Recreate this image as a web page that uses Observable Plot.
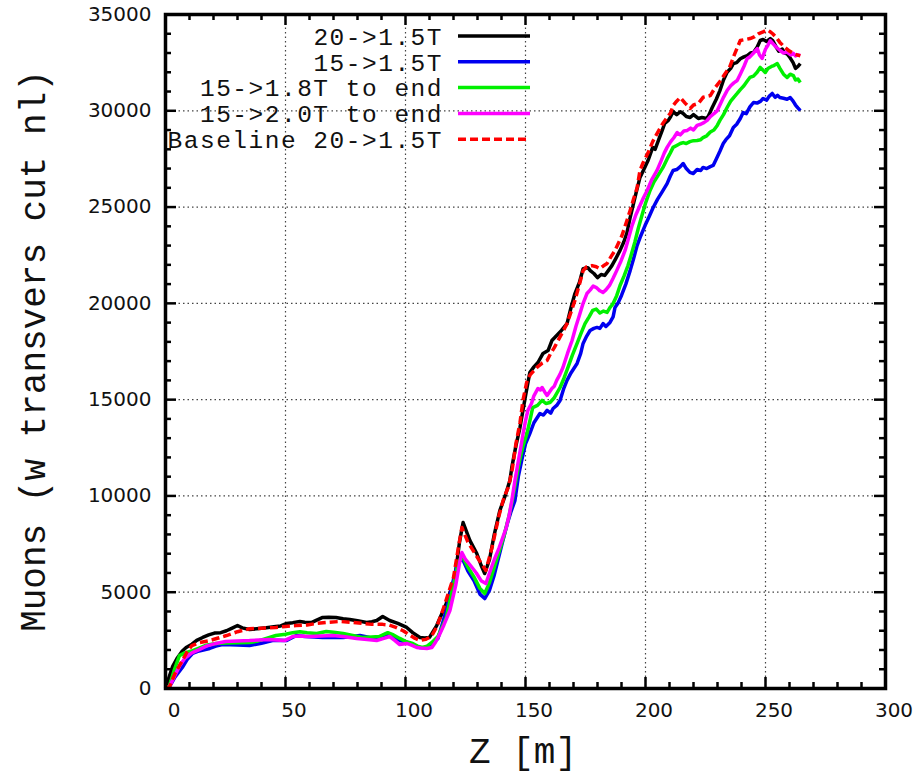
<!DOCTYPE html>
<html>
<head>
<meta charset="utf-8">
<script src="https://cdn.jsdelivr.net/npm/d3@7"></script>
<script src="https://cdn.jsdelivr.net/npm/@observablehq/plot@0.6"></script>
<style>
  html, body { margin: 0; padding: 0; background: #fff; }
  g[aria-label="xtick"] text, g[aria-label="ytick"] text { letter-spacing: 3px; }
</style>
</head>
<body>
<div id="chart"></div>
<script>
// ---- data ----
const seriesNames = ["20->1.5T", "15->1.5T", "15->1.8T to end", "15->2.0T to end", "Baseline 20->1.5T"];
const seriesColors = ["#000000", "#0000f0", "#00f000", "#ff00ff", "#ff0000"];

const s20to15 = [[0,0],[1.5,600],[3,1150],[5,1600],[7,1950],[8.6,2130],[11,2300],[13,2500],[15.5,2650],[18,2780],[20.4,2880],[23,2900],[25.4,3000],[28,3150],[30,3270],[32,3150],[35,3060],[38,3100],[42,3150],[46,3220],[48,3250],[50.5,3380],[53,3420],[56,3480],[58,3440],[61,3430],[63,3550],[65.5,3690],[68,3700],[71,3690],[74,3620],[76.8,3580],[80,3520],[83.8,3430],[86,3470],[88,3530],[90.5,3740],[93.4,3530],[96.8,3380],[100.5,3170],[103,2900],[106,2650],[108,2620],[110,2650],[113,3270],[117,4410],[120.6,5760],[122.5,7600],[124,8620],[126.8,7690],[129.7,7010],[131.5,6400],[133,5970],[135,6700],[137,8000],[139.3,9240],[141.5,10000],[143.5,10800],[144.3,11480],[146,12600],[147.7,13550],[149.8,15060],[151.8,16410],[153.5,16700],[155.2,16930],[157.3,17400],[159.4,17550],[161,18070],[163,18330],[165,18600],[167.3,18950],[169,19800],[170.6,20510],[172.5,21100],[174,21800],[176,21850],[177,21700],[178.5,21550],[180,21340],[181.5,21500],[183,21450],[184.5,21700],[186,21960],[187.5,22300],[189.4,22750],[191,23200],[192.3,23680],[193.5,24400],[194.8,25080],[196,25700],[197.7,26540],[199.5,27000],[201,27400],[203,28100],[204,28000],[205.5,28500],[207,29000],[208,29340],[209.5,29500],[210.5,29700],[211.5,29960],[213,29800],[214.5,29950],[215.7,29860],[217,29700],[218.6,29650],[220,29800],[222,29600],[223.5,29650],[225.6,29600],[226.5,29800],[227.8,30170],[229.5,30600],[231,31050],[232.5,31600],[234,32000],[235.5,32200],[236.6,32450],[238,32500],[239.5,32700],[241,32800],[242.4,32870],[243.7,33000],[245,33030],[246.5,33300],[247.8,33650],[249,33700],[250.5,33600],[252,33750],[253,33650],[254.5,33300],[255.5,33100],[257,33200],[258,33000],[259,32950],[260,32800],[261.5,32500],[262.5,32200],[263.5,32300],[264.5,32450]];

const s15to15 = [[0,0],[1.7,100],[4,600],[7,1090],[9,1500],[11.3,1820],[14,1950],[18.4,2080],[21,2200],[23.8,2280],[27,2270],[30,2260],[35,2230],[40,2350],[44.6,2490],[47,2500],[50.5,2490],[54.5,2750],[58,2700],[62,2680],[65.5,2650],[70,2660],[74,2650],[78,2700],[81,2750],[85,2650],[88,2600],[92.6,2750],[95,2650],[97.6,2490],[100,2420],[102,2340],[104,2200],[106,2130],[108,2120],[110,2180],[113.5,2600],[115,3200],[117,4050],[119.5,5400],[121.5,6400],[123.5,6800],[126,6100],[128.5,5600],[131,4900],[133,4670],[135,5100],[137,5900],[139,6900],[140.6,7690],[142.5,8600],[144,9200],[145.6,9760],[147,11000],[148.5,11900],[150,12700],[151.8,13240],[153.5,13800],[156,14280],[157.5,14200],[159,14440],[160.5,14300],[161.5,14540],[163,14700],[164.4,14960],[166,15600],[167.3,16000],[169,16400],[171.5,16880],[173,17400],[174,17920],[175.5,18300],[176.9,18590],[178.5,18700],[179.8,18750],[181,18700],[182.3,18950],[183.5,18800],[185.2,19010],[186.5,19300],[187.3,19790],[188.5,20000],[190,20410],[191.8,21000],[193.6,21700],[195,22300],[196.5,23000],[198,23500],[199.8,24040],[201.5,24500],[203.2,24980],[205,25400],[207,25800],[209,26220],[210.3,26600],[211.5,26900],[213,26950],[214.5,27100],[215.7,27260],[217,27000],[218.5,26800],[219.9,26740],[221.5,26950],[223,26900],[224,27060],[225.5,27000],[227,27100],[228.2,27160],[229.5,27500],[231,27900],[232.4,28300],[233.5,28500],[235,28700],[236.6,29130],[238,29300],[239.5,29600],[240.7,29910],[242,29850],[243.5,30200],[245,30430],[246.5,30400],[248,30500],[249,30640],[250.5,30550],[251.5,30750],[252.8,30900],[254,30700],[255,30800],[256,30690],[257.5,30650],[259,30600],[260.3,30690],[261.5,30500],[262.5,30300],[263.5,30150],[264.5,30010]];

const s15to18 = [[0,0],[1.7,150],[3.5,900],[5.8,1710],[8,1850],[11.3,1970],[14,2100],[17,2250],[21,2340],[25,2360],[30,2380],[35,2390],[38,2450],[42,2600],[46,2750],[50,2820],[53,2900],[56,2950],[59,2900],[63,2860],[67,2960],[70,2920],[74,2860],[78,2750],[82,2650],[86,2680],[89,2700],[92.6,2900],[95,2780],[97.6,2600],[100,2450],[103,2340],[105,2200],[107,2130],[109,2200],[111,2390],[113.5,2700],[115,3100],[117,3690],[120,5400],[121.8,6400],[123.5,6910],[126,6300],[128.5,5800],[131,5200],[133,4930],[135,5500],[137,6300],[139,7100],[141,7900],[143,8900],[144.5,9760],[146,10800],[147.5,11800],[149,12600],[150.6,13240],[152,14000],[153,14590],[155,14700],[156.9,14960],[158.5,14800],[160.2,14850],[162,15100],[164.4,15630],[166,16100],[167.7,16670],[169.5,17300],[171.5,17920],[173,18400],[174.8,18950],[176.5,19300],[178,19630],[179.5,19700],[181,19500],[182.5,19600],[184,19530],[185.3,19800],[186.5,19990],[188,20400],[189.4,20930],[191,21400],[192.7,21960],[194,22500],[195.6,23200],[197,23900],[198.6,24600],[200,25200],[201.9,25860],[203.5,26300],[205.5,26700],[207.3,27060],[209,27500],[210.3,27800],[211.5,28100],[213,28200],[214.5,28300],[215.7,28350],[217,28300],[218.5,28400],[220,28450],[221.5,28460],[223,28500],[224,28610],[225.5,28700],[227,28900],[228.5,29000],[229.9,29240],[231,29500],[232.5,29800],[234,30170],[235.5,30500],[236.8,30700],[238.2,30900],[239.5,31100],[241,31300],[242.4,31550],[243.5,31730],[245,31800],[246.5,32000],[247.8,32250],[249,32100],[249.9,31990],[251,32200],[252.5,32300],[253.5,32350],[254.9,32450],[256,32200],[257.5,31900],[259,31730],[260.3,31900],[261.6,31830],[262.5,31600],[263.5,31650],[264.5,31470]];

const s15to20 = [[0,0],[1.7,100],[4,700],[6,1200],[8,1560],[11,1850],[14,2020],[17,2200],[21,2340],[25,2440],[30,2470],[35,2490],[39,2520],[43,2540],[46,2520],[49.6,2490],[51.5,2600],[53,2700],[56,2720],[60,2700],[65,2730],[69.7,2750],[74,2700],[79.6,2600],[84,2550],[88,2490],[91,2600],[93.4,2700],[95.5,2500],[97.6,2280],[100.5,2340],[102.5,2250],[104.7,2130],[106.5,2100],[108.9,2080],[111,2130],[112.5,2400],[114,2750],[116,3300],[118.5,4050],[121,5400],[122.5,6500],[123.5,7060],[125,6700],[127,6400],[129.5,6000],[131.5,5600],[133.5,5450],[135,6000],[137,6700],[139,7300],[141,8000],[142,8360],[143.2,9000],[144.3,9760],[145.6,10800],[147,11800],[148,12500],[149,13240],[150,13900],[151,14440],[152.5,14800],[153.5,15200],[155.2,15580],[156.2,15500],[156.9,15630],[158,15400],[159,15220],[160,15400],[161,15580],[162,15700],[163,16000],[164.3,16300],[165.6,16670],[167.5,17400],[169.4,18070],[171,18800],[172.7,19470],[174,20000],[175.6,20510],[177,20700],[178.2,20900],[179.5,20820],[181,20650],[182.3,20560],[183.5,20700],[185,20930],[186.5,21300],[188,21700],[189.8,22200],[191.5,22750],[193,23400],[194.4,24040],[196,24600],[197.7,25080],[199.2,25500],[200.7,25860],[202.5,26400],[204.8,26900],[206.5,27400],[207.8,27800],[209,28100],[210.5,28400],[211.8,28600],[213.2,28870],[214.5,28750],[216,28950],[217.4,28980],[218.8,29100],[220,29000],[221.5,29240],[223,29300],[224.5,29400],[225.7,29500],[227,29700],[228.5,29850],[229.9,30010],[231,30300],[232.5,30700],[234,31050],[235.5,31300],[236.8,31450],[238.2,31570],[239.5,31900],[241,32300],[242.4,32720],[243.5,32800],[245,33000],[246.6,33230],[247.5,32900],[248.6,32720],[250,33200],[251,33400],[252,33650],[253,33500],[254.5,33300],[256.1,33130],[257.5,33000],[259,33050],[260.5,32900],[261.6,32980],[262.5,32850],[263.5,32900],[264.5,32870]];

const sBaseline = [[0,0],[1.7,100],[4,800],[7,1450],[9,1900],[11,2230],[14,2380],[18.4,2490],[22,2620],[25.4,2750],[30,2950],[35,3100],[40,3130],[46,3170],[50,3220],[54.5,3270],[59,3300],[63,3380],[68,3440],[72.6,3480],[77,3440],[82,3380],[86,3330],[90.5,3330],[93,3300],[96,3170],[99,3000],[102,2750],[104,2600],[106,2500],[108.5,2550],[111,2750],[113,3200],[115.5,4050],[118,5000],[120,5760],[122,7300],[123.5,8360],[126,7600],[128,7200],[130.5,6700],[133.5,6130],[136,7300],[139,9000],[141,9900],[143,10500],[144.5,11400],[146,12700],[147.7,13800],[149,15000],[150.5,15900],[152,16300],[155,16700],[157,16900],[159,17030],[160.5,17400],[162,17700],[165,18400],[167.3,18950],[170.6,20150],[172.5,21000],[174,21700],[175.5,21900],[177.7,21960],[179.5,21900],[181,21800],[182.5,21950],[184,22070],[185.5,22400],[187.3,22750],[189,23200],[190.2,23520],[192,24200],[193.6,24820],[195,25400],[196.5,26000],[197.7,26900],[199,27300],[201,27800],[203,28400],[204.8,28820],[207,29300],[209,29650],[210.5,29900],[211.5,30270],[213,30500],[214.5,30690],[216.5,30400],[218.6,30120],[220,30300],[222,30380],[224,30700],[227,30790],[229,31200],[231,31520],[233,31900],[235,32250],[237,32900],[239.5,33650],[241.5,33700],[243.6,33750],[245.5,33850],[247,34000],[249,34100],[250.7,34200],[252,34100],[253,34000],[254.5,33800],[256,33550],[258,33300],[260,33100],[262,32950],[264.5,32850]];

const xMajorTicks = [0, 50, 100, 150, 200, 250, 300];
const yMajorTicks = [0, 5000, 10000, 15000, 20000, 25000, 30000, 35000];
const xMinorTicks = d3.range(0, 301, 10).filter(v => v % 50 !== 0);
const yMinorTicks = d3.range(0, 35001, 1000).filter(v => v % 5000 !== 0);
const xTitle = "Z [m]";
const yTitle = "Muons (w transvers cut nl)";

// ---- layout ----
const W = 923, H = 775;
const mL = 165, mR = 38, mT = 14, mB = 87;
const innerW = W - mL - mR, innerH = H - mT - mB;

const allSeries = [s20to15, s15to15, s15to18, s15to20, sBaseline];

const lineMarks = allSeries.map((s, i) =>
  Plot.line(s, {
    x: d => d[0], y: d => d[1],
    stroke: seriesColors[i], strokeWidth: 3.5,
    strokeDasharray: i === 4 ? "8,4" : null,
    strokeLinejoin: "round", strokeLinecap: "butt"
  })
);

const chart = Plot.plot({
  width: W, height: H,
  marginLeft: mL, marginRight: mR, marginTop: mT, marginBottom: mB,
  x: {domain: [0, 300], axis: null},
  y: {domain: [0, 35000], axis: null},
  style: {background: "#fff", overflow: "visible"},
  marks: [
    Plot.gridX(xMajorTicks.slice(1, -1), {stroke: "#444", strokeOpacity: 1, strokeWidth: 1.2, strokeDasharray: "1.5,3"}),
    Plot.gridY(yMajorTicks.slice(1, -1), {stroke: "#444", strokeOpacity: 1, strokeWidth: 1.2, strokeDasharray: "1.5,3"}),
    ...lineMarks,
    // ticks pointing inward on all four sides
    Plot.ruleX(xMajorTicks, {x: d => d, insetTop: innerH - 11, strokeWidth: 2.5}),
    Plot.ruleX(xMajorTicks, {x: d => d, insetBottom: innerH - 11, strokeWidth: 2.5}),
    Plot.ruleX(xMinorTicks, {x: d => d, insetTop: innerH - 6, strokeWidth: 2.5}),
    Plot.ruleX(xMinorTicks, {x: d => d, insetBottom: innerH - 6, strokeWidth: 2.5}),
    Plot.ruleY(yMajorTicks, {y: d => d, insetRight: innerW - 11, strokeWidth: 2.5}),
    Plot.ruleY(yMajorTicks, {y: d => d, insetLeft: innerW - 11, strokeWidth: 2.5}),
    Plot.ruleY(yMinorTicks, {y: d => d, insetRight: innerW - 6, strokeWidth: 2.5}),
    Plot.ruleY(yMinorTicks, {y: d => d, insetLeft: innerW - 6, strokeWidth: 2.5}),
    Plot.frame({stroke: "#000", strokeWidth: 3.5}),
    // tick labels
    Plot.text(xMajorTicks, {x: d => d, frameAnchor: "bottom", dy: 28, dx: 8.5, text: d => String(d),
      fontFamily: "DejaVu Sans", fontSize: 20, fill: "#111", ariaLabel: "xtick"}),
    Plot.text(yMajorTicks, {y: d => d, frameAnchor: "left", dx: -14, textAnchor: "end", text: d => String(d),
      fontFamily: "DejaVu Sans", fontSize: 20, fill: "#111", ariaLabel: "ytick"})
  ]
});

document.getElementById("chart").appendChild(chart);

// ---- titles and legend overlay ----
const svg = d3.select(chart.tagName.toLowerCase() === "svg" ? chart : chart.querySelector("svg"));
const mono = "'Liberation Mono', 'DejaVu Sans Mono', monospace";

svg.append("text")
  .attr("transform", `translate(35,${mT + innerH / 2}) rotate(-90)`)
  .attr("text-anchor", "middle").attr("dominant-baseline", "central")
  .attr("font-family", mono).attr("font-size", 36).attr("fill", "#111")
  .text(yTitle);

svg.append("text")
  .attr("x", 523).attr("y", 763)
  .attr("text-anchor", "middle")
  .attr("font-family", mono).attr("font-size", 36).attr("fill", "#111")
  .text(xTitle);

const leg = svg.append("g");
const legRowY = i => 36 + i * 25.8;
seriesNames.forEach((name, i) => {
  const y = legRowY(i);
  leg.append("text")
    .attr("x", 443).attr("y", y).attr("dy", "0.36em")
    .attr("text-anchor", "end")
    .attr("font-family", mono).attr("font-size", 24.5)
    .attr("letter-spacing", "1.5px").attr("fill", "#111")
    .text(name);
  leg.append("line")
    .attr("x1", 458).attr("x2", 530).attr("y1", y).attr("y2", y)
    .attr("stroke", seriesColors[i]).attr("stroke-width", 3.5)
    .attr("stroke-dasharray", i === 4 ? "8,4" : null);
});
</script>
</body>
</html>
